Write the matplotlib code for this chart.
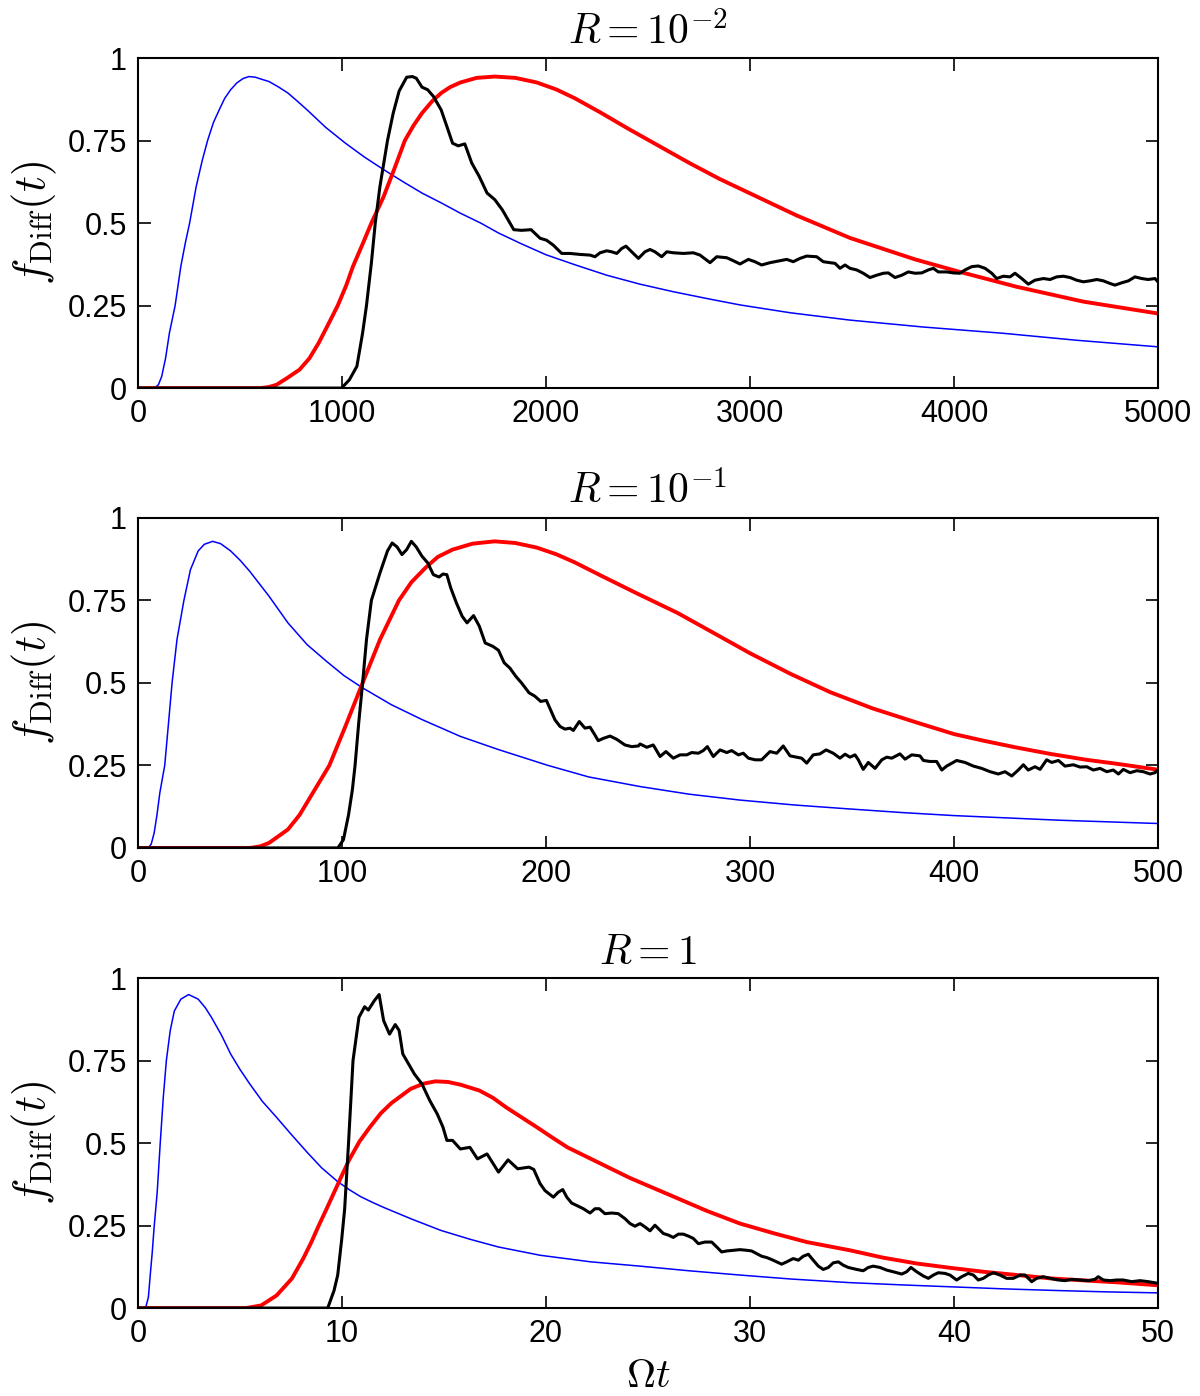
import matplotlib
matplotlib.use('Agg')
import matplotlib.pyplot as plt

plt.rcParams['font.family'] = ['Liberation Sans', 'DejaVu Sans']
plt.rcParams['mathtext.fontset'] = 'cm'

# ---------------- R = 1e-2 ----------------
blue1 = [(0, 0), (80, 0), (100, 0.01), (116, 0.035), (135, 0.09), (154, 0.167), (182, 0.25),
         (210, 0.369), (232, 0.44), (253, 0.5), (285, 0.61), (315, 0.69), (341, 0.75), (370, 0.805),
         (398, 0.843), (425, 0.878), (454, 0.904), (485, 0.925), (515, 0.938), (544, 0.944),
         (575, 0.942), (610, 0.935), (642, 0.929), (690, 0.912), (735, 0.894), (780, 0.87),
         (829, 0.843), (920, 0.79), (1017, 0.742), (1110, 0.70), (1204, 0.662), (1300, 0.625),
         (1392, 0.591), (1490, 0.56), (1580, 0.53), (1680, 0.50), (1767, 0.47), (1880, 0.437),
         (2000, 0.404), (2150, 0.372), (2298, 0.342), (2460, 0.315), (2624, 0.292), (2800, 0.27),
         (2951, 0.252), (3200, 0.228), (3490, 0.206), (3850, 0.185), (4242, 0.166), (4600, 0.145),
         (5000, 0.125)]
red1 = [(0, 0), (600, 0), (640, 0.003), (679, 0.01), (730, 0.03), (792, 0.056), (840, 0.09),
        (885, 0.136), (930, 0.19), (979, 0.25), (1020, 0.31), (1054, 0.369), (1100, 0.435),
        (1144, 0.5), (1204, 0.58), (1260, 0.67), (1308, 0.75), (1350, 0.795), (1392, 0.833),
        (1440, 0.868), (1486, 0.894), (1530, 0.912), (1580, 0.926), (1660, 0.94), (1749, 0.944),
        (1850, 0.94), (1955, 0.926), (2050, 0.905), (2142, 0.878), (2270, 0.834), (2400, 0.787),
        (2550, 0.735), (2700, 0.683), (2850, 0.634), (3000, 0.59), (3229, 0.523), (3490, 0.455),
        (3809, 0.39), (4029, 0.352), (4307, 0.307), (4634, 0.262), (5000, 0.226)]
sim1 = [(0, 0), (998, 0), (1036, 0.025), (1073, 0.066), (1101, 0.167), (1120, 0.25), (1144, 0.379),
        (1163, 0.5), (1186, 0.611), (1223, 0.75), (1251, 0.833), (1280, 0.9), (1317, 0.942),
        (1345, 0.944), (1364, 0.939), (1392, 0.912), (1420, 0.904), (1448, 0.884), (1486, 0.843),
        (1514, 0.793), (1542, 0.742), (1570, 0.734), (1602, 0.74), (1636, 0.682), (1673, 0.641),
        (1711, 0.591), (1749, 0.571), (1786, 0.54), (1842, 0.48), (1880, 0.478), (1927, 0.48),
        (1971, 0.454), (2003, 0.448), (2036, 0.433), (2077, 0.408), (2118, 0.408), (2167, 0.405),
        (2216, 0.403), (2240, 0.398), (2265, 0.41), (2298, 0.416), (2322, 0.413), (2347, 0.408),
        (2371, 0.423), (2392, 0.43), (2420, 0.413), (2453, 0.393), (2485, 0.413), (2510, 0.42),
        (2534, 0.413), (2567, 0.398), (2592, 0.413), (2624, 0.41), (2673, 0.408), (2722, 0.41),
        (2755, 0.403), (2804, 0.38), (2837, 0.398), (2886, 0.395), (2918, 0.386), (2951, 0.376),
        (2992, 0.39), (3024, 0.383), (3057, 0.373), (3098, 0.38), (3147, 0.386), (3180, 0.39),
        (3212, 0.383), (3245, 0.393), (3278, 0.4), (3327, 0.398), (3359, 0.383), (3392, 0.38),
        (3417, 0.378), (3441, 0.363), (3466, 0.373), (3490, 0.363), (3523, 0.358), (3555, 0.348),
        (3588, 0.335), (3621, 0.342), (3654, 0.348), (3678, 0.349), (3711, 0.335), (3744, 0.342),
        (3776, 0.352), (3809, 0.348), (3842, 0.349), (3874, 0.358), (3899, 0.363), (3923, 0.352),
        (3964, 0.352), (3997, 0.349), (4029, 0.348), (4054, 0.358), (4087, 0.368), (4119, 0.37),
        (4152, 0.363), (4185, 0.348), (4209, 0.332), (4242, 0.339), (4275, 0.337), (4299, 0.348),
        (4332, 0.332), (4364, 0.315), (4397, 0.327), (4438, 0.332), (4471, 0.329), (4503, 0.337),
        (4536, 0.339), (4569, 0.335), (4601, 0.327), (4634, 0.322), (4667, 0.325), (4700, 0.329),
        (4732, 0.325), (4765, 0.317), (4789, 0.312), (4822, 0.319), (4855, 0.325), (4887, 0.337),
        (4920, 0.332), (4952, 0.329), (4985, 0.332), (5000, 0.322)]

# ---------------- R = 1e-1 ----------------
blue2 = [(0, 0), (5, 0), (6.5, 0.012), (7.9, 0.045), (9.3, 0.1), (10.7, 0.167), (13.1, 0.25),
         (15.4, 0.409), (16.7, 0.5), (19.1, 0.631), (22.5, 0.75), (25.7, 0.843), (29.5, 0.9),
         (32.5, 0.92), (36.6, 0.929), (40.5, 0.922), (45.4, 0.9), (50, 0.872), (54.8, 0.838),
         (64.2, 0.763), (73.5, 0.682), (82.9, 0.616), (92.3, 0.566), (101, 0.522), (110.1, 0.485),
         (124.2, 0.434), (139.2, 0.389), (158, 0.338), (176.7, 0.298), (201, 0.25), (221, 0.215),
         (246.1, 0.186), (270, 0.163), (295.1, 0.145), (322, 0.13), (349, 0.118), (375, 0.107),
         (400, 0.098), (451.5, 0.084), (500, 0.074)]
red2 = [(0, 0), (55, 0), (60, 0.005), (64.2, 0.015), (73.5, 0.056), (79.2, 0.1), (86.7, 0.177),
        (93.8, 0.25), (101.7, 0.369), (110.1, 0.5), (118.6, 0.631), (127.9, 0.75), (134, 0.805),
        (141.1, 0.85), (147, 0.882), (154.2, 0.904), (164, 0.922), (174.8, 0.929), (185, 0.924),
        (195.5, 0.91), (205, 0.89), (214.2, 0.865), (227, 0.825), (245, 0.77), (264.5, 0.712),
        (282, 0.652), (300, 0.59), (320, 0.527), (339.3, 0.472), (360, 0.423), (381.7, 0.38),
        (400, 0.345), (414.4, 0.325), (430, 0.305), (447.1, 0.285), (465, 0.267), (479.8, 0.255),
        (500, 0.237)]
sim2 = [(0, 0), (98, 0), (100.7, 0.025), (103.2, 0.1), (105.1, 0.177), (106.4, 0.25), (108.2, 0.379),
        (110.1, 0.5), (112, 0.631), (114.4, 0.75), (118.6, 0.833), (122.3, 0.9), (124.6, 0.924),
        (127, 0.912), (129.4, 0.889), (131.7, 0.904), (134, 0.929), (136.4, 0.912), (139.2, 0.884),
        (142, 0.864), (144.8, 0.828), (147.6, 0.821), (149.5, 0.83), (151.4, 0.828), (153.3, 0.788),
        (156.1, 0.742), (158.9, 0.702), (161.3, 0.682), (164.5, 0.704), (167.3, 0.672),
        (170.2, 0.621), (173.9, 0.611), (176.7, 0.599), (179.5, 0.561), (182.3, 0.545),
        (185.2, 0.52), (188, 0.5), (191.7, 0.47), (194.5, 0.46), (197.4, 0.444), (200.2, 0.447),
        (204.4, 0.388), (206.9, 0.368), (209.3, 0.36), (211.8, 0.363), (213.4, 0.356),
        (216.3, 0.383), (219.1, 0.363), (221.6, 0.366), (224, 0.342), (225.6, 0.325), (228.1, 0.332),
        (231.4, 0.339), (234.7, 0.329), (238.7, 0.312), (242, 0.307), (245.3, 0.309), (246.1, 0.315),
        (249.4, 0.305), (252.6, 0.312), (255.9, 0.277), (258.8, 0.292), (262.4, 0.272),
        (265.7, 0.282), (269, 0.282), (271.4, 0.289), (274.7, 0.287), (277.1, 0.295), (279.1, 0.307),
        (282, 0.277), (285.3, 0.297), (288.6, 0.289), (291, 0.295), (294.3, 0.282), (296.7, 0.287),
        (299.2, 0.272), (302.5, 0.267), (305.7, 0.267), (309.8, 0.292), (313.1, 0.287),
        (316.3, 0.309), (319.6, 0.279), (322.9, 0.275), (325.3, 0.272), (327.8, 0.257), (331, 0.282),
        (334.3, 0.285), (337.3, 0.297), (340.8, 0.287), (344.1, 0.272), (346.6, 0.284), (349, 0.275),
        (351.5, 0.282), (353.1, 0.267), (355.5, 0.238), (358, 0.259), (361.3, 0.241), (364.6, 0.267),
        (367, 0.275), (369.5, 0.272), (373.5, 0.285), (376, 0.269), (379.3, 0.282), (383.3, 0.279),
        (385, 0.265), (388.2, 0.262), (391.5, 0.262), (394, 0.236), (396.4, 0.248), (401.3, 0.265),
        (405.4, 0.259), (409.5, 0.248), (413.6, 0.241), (417.7, 0.231), (421.7, 0.224), (425, 0.231),
        (428.3, 0.218), (431.5, 0.236), (434, 0.252), (436.4, 0.236), (439.7, 0.246), (442.2, 0.238),
        (445.4, 0.267), (447.9, 0.259), (451.2, 0.265), (454.4, 0.248), (458.5, 0.252),
        (461.8, 0.245), (465.1, 0.246), (468.3, 0.236), (471.6, 0.241), (474.9, 0.231),
        (478.1, 0.236), (480.6, 0.224), (483, 0.238), (486.3, 0.228), (489.6, 0.234), (492.8, 0.231),
        (496.1, 0.224), (498.5, 0.228), (500, 0.236)]

# ---------------- R = 1 ----------------
blue3 = [(0, 0), (0.37, 0), (0.51, 0.033), (0.6, 0.1), (0.7, 0.17), (0.79, 0.245), (0.94, 0.35),
         (1.09, 0.5), (1.24, 0.639), (1.39, 0.75), (1.58, 0.841), (1.78, 0.9), (2.1, 0.936),
         (2.48, 0.95), (2.95, 0.936), (3.3, 0.91), (3.6, 0.881), (4.1, 0.826), (4.54, 0.77),
         (5.0, 0.723), (5.48, 0.679), (6.1, 0.626), (6.79, 0.578), (7.5, 0.527), (8.29, 0.472),
         (9.0, 0.425), (9.79, 0.383), (10.4, 0.357), (10.9, 0.338), (11.5, 0.32), (12.04, 0.305),
         (13.4, 0.27), (14.86, 0.235), (16.3, 0.208), (17.67, 0.185), (19.71, 0.16), (22.2, 0.14),
         (24.61, 0.127), (27, 0.113), (29.51, 0.1), (32, 0.088), (34.9, 0.077), (37.5, 0.07),
         (40, 0.064), (42.5, 0.058), (45.1, 0.053), (47.5, 0.049), (50, 0.046)]
red3 = [(0, 0), (5.3, 0), (6.04, 0.008), (6.79, 0.038), (7.54, 0.089), (8.1, 0.15), (8.5, 0.2),
        (8.86, 0.25), (9.24, 0.3), (9.61, 0.35), (9.98, 0.4), (10.36, 0.45), (10.86, 0.505),
        (11.39, 0.55), (11.9, 0.59), (12.42, 0.621), (13.36, 0.664), (14, 0.68), (14.58, 0.687),
        (15.2, 0.685), (15.8, 0.677), (16.74, 0.659), (17.4, 0.637), (18.05, 0.608), (18.8, 0.578),
        (19.55, 0.548), (20.3, 0.517), (21.05, 0.487), (22.7, 0.437), (24.12, 0.394), (26.24, 0.338),
        (27.9, 0.294), (29.51, 0.256), (31.2, 0.226), (32.78, 0.2), (34.9, 0.175), (36.5, 0.153),
        (38.17, 0.135), (39.8, 0.122), (41.44, 0.11), (43.1, 0.1), (44.71, 0.09), (46.3, 0.084),
        (47.98, 0.078), (50, 0.069)]
sim3 = [(0, 0), (9.3, 0), (9.61, 0.053), (9.79, 0.1), (9.98, 0.205), (10.13, 0.3), (10.32, 0.5),
        (10.54, 0.75), (10.83, 0.881), (11.11, 0.913), (11.29, 0.903), (11.58, 0.931), (11.82, 0.95),
        (12.04, 0.871), (12.33, 0.83), (12.61, 0.859), (12.8, 0.841), (12.98, 0.77), (13.26, 0.74),
        (13.55, 0.709), (13.92, 0.679), (14.3, 0.629), (14.67, 0.588), (14.95, 0.548), (15.14, 0.508),
        (15.42, 0.508), (15.8, 0.482), (16.27, 0.487), (16.64, 0.452), (17.11, 0.467), (17.67, 0.412),
        (18.14, 0.449), (18.61, 0.422), (19.17, 0.427), (19.4, 0.42), (19.71, 0.377), (19.95, 0.356),
        (20.36, 0.336), (20.6, 0.351), (20.82, 0.359), (21.02, 0.336), (21.26, 0.318), (21.5, 0.311),
        (21.83, 0.301), (22.16, 0.288), (22.4, 0.301), (22.61, 0.301), (22.89, 0.286), (23.22, 0.288),
        (23.54, 0.286), (23.87, 0.271), (24.12, 0.256), (24.36, 0.248), (24.61, 0.256),
        (24.85, 0.246), (25.1, 0.234), (25.34, 0.251), (25.59, 0.236), (25.75, 0.226), (26, 0.221),
        (26.24, 0.214), (26.49, 0.224), (26.73, 0.224), (26.98, 0.218), (27.22, 0.211),
        (27.47, 0.195), (27.79, 0.2), (28.12, 0.2), (28.37, 0.185), (28.61, 0.17), (28.86, 0.173),
        (29.18, 0.175), (29.51, 0.177), (29.84, 0.175), (30.08, 0.173), (30.33, 0.165),
        (30.57, 0.157), (30.82, 0.153), (31.06, 0.147), (31.31, 0.14), (31.55, 0.133), (31.8, 0.14),
        (32.12, 0.15), (32.37, 0.145), (32.61, 0.157), (32.86, 0.163), (33.1, 0.145), (33.35, 0.127),
        (33.59, 0.117), (33.84, 0.123), (34.08, 0.137), (34.33, 0.14), (34.57, 0.13), (34.82, 0.123),
        (35.23, 0.117), (35.55, 0.113), (35.8, 0.123), (36.04, 0.127), (36.37, 0.123), (36.7, 0.115),
        (37.02, 0.11), (37.44, 0.103), (37.68, 0.11), (37.89, 0.123), (38.17, 0.11), (38.5, 0.097),
        (38.74, 0.09), (38.99, 0.1), (39.23, 0.107), (39.56, 0.105), (39.8, 0.1), (40.13, 0.085),
        (40.38, 0.095), (40.7, 0.105), (40.95, 0.1), (41.19, 0.085), (41.44, 0.09), (41.68, 0.1),
        (41.93, 0.107), (42.25, 0.1), (42.58, 0.09), (42.91, 0.09), (43.24, 0.1), (43.48, 0.1),
        (43.81, 0.08), (44.05, 0.09), (44.38, 0.095), (44.71, 0.09), (45.11, 0.085), (45.44, 0.083),
        (45.77, 0.087), (46.18, 0.085), (46.58, 0.083), (46.91, 0.087), (47.07, 0.095),
        (47.32, 0.085), (47.65, 0.083), (47.98, 0.085), (48.3, 0.085), (48.71, 0.08), (49.12, 0.083),
        (49.52, 0.08), (50, 0.075)]

titles = [r'$R=10^{-2}$', r'$R=10^{-1}$', r'$R=1$']
xmax = [5000, 500, 50]
xticks = [[0, 1000, 2000, 3000, 4000, 5000], [0, 100, 200, 300, 400, 500], [0, 10, 20, 30, 40, 50]]
yticks = [0, 0.25, 0.5, 0.75, 1]
ylabels = ['0', '0.25', '0.5', '0.75', '1']

panels = [(blue1, red1, sim1), (blue2, red2, sim2), (blue3, red3, sim3)]
bottoms = [0.722, 0.3926, 0.063]

fig = plt.figure(figsize=(12, 13.96), dpi=100, facecolor='white')

for i in range(3):
    ax = fig.add_axes([0.115, bottoms[i], 0.85, 0.2364])
    blue, red, sim = panels[i]
    tb, fb = zip(*blue)
    tr, fr = zip(*red)
    ts, fs = zip(*sim)
    ax.plot(tb, fb, color='#0000ff', lw=1.1)
    ax.plot(tr, fr, color='#ff0000', lw=2.8)
    ax.plot(ts, fs, color='black', lw=2.2)
    ax.set_xlim(0, xmax[i])
    ax.set_ylim(0, 1)
    ax.set_xticks(xticks[i])
    ax.set_xticklabels([str(v) for v in xticks[i]])
    ax.set_yticks(yticks)
    ax.set_yticklabels(ylabels)
    ax.tick_params(direction='in', length=9, width=1.2, labelsize=22, pad=8,
                   top=True, right=True)
    for s in ax.spines.values():
        s.set_linewidth(1.5)
    ax.set_title(titles[i], fontsize=30, pad=10)
    ax.set_ylabel(r'$f_{\mathrm{Diff}}(t)$', fontsize=32, labelpad=6)
    if i == 2:
        ax.set_xlabel(r'$\Omega t$', fontsize=29, labelpad=6)

plt.savefig('out.png', dpi=100)
